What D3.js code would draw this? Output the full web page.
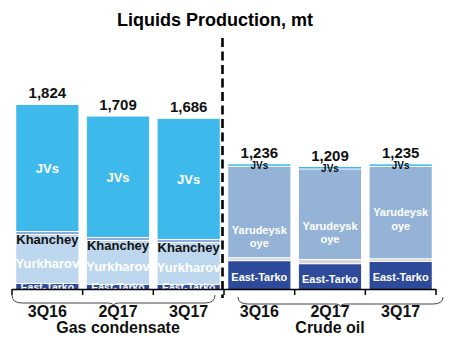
<!DOCTYPE html>
<html>
<head>
<meta charset="utf-8">
<script src="https://cdn.jsdelivr.net/npm/d3@7/dist/d3.min.js"></script>
<style>
  html, body { margin: 0; padding: 0; background: #fff; }
  svg { display: block; font-family: "Liberation Sans", Arial, sans-serif; }
</style>
</head>
<body>
<svg id="chart" width="456" height="352"></svg>
<script>
// ---------- data ----------
const title = "Liquids Production, mt";
const periods = ["3Q16", "2Q17", "3Q17"];
const groupNames = ["Gas condensate", "Crude oil"];

const gasTotals = [1824, 1709, 1686];
const gasEastTarko = [50, 40, 40];
const gasYurkharov = [485, 436, 416];
const gasKhanchey = [30, 30, 30];
const gasJVs = [1259, 1203, 1200];

const crudeTotals = [1236, 1209, 1235];
const crudeEastTarko = [275, 245, 268];
const crudeOther = [30, 42, 27];
const crudeYarudeyskoye = [906, 897, 915];
const crudeJVs = [25, 25, 25];

const totalLabels = ["1,824", "1,709", "1,686", "1,236", "1,209", "1,235"];
// vertical shift of the two-line "Yarudeyskoye" label relative to its segment centre
const yarLabelShift = [17, 11, -1];

// ---------- layout ----------
const svg = d3.select("#chart");
const baseline = 289;
const y = d3.scaleLinear().domain([0, 2000]).range([baseline, baseline - 201.8]);
const keys = [];
groupNames.forEach((g, gi) => periods.forEach((p, pi) => keys.push(gi + "-" + pi)));
const x = d3.scaleBand().domain(keys).range([12, 436]).paddingInner(0.12).paddingOuter(0.06);
const step = x.step();
const bw = x.bandwidth();

const colors = {
  eastTarko: "#2E4B9B",
  yurkharov: "#BDD7EE",
  khanchey: "#8FAADC",
  jvs: "#3EB9EB",
  other: "#D9D9D9",
  yarudey: "#95B3D7"
};

// build stacks
const bars = [];
periods.forEach((p, i) => {
  bars.push({key: "0-" + i, total: gasTotals[i], label: totalLabels[i], segs: [
    {name: "East-Tarko", v: gasEastTarko[i], c: colors.eastTarko},
    {name: "Yurkharov", v: gasYurkharov[i], c: colors.yurkharov},
    {name: "Khanchey", v: gasKhanchey[i], c: colors.khanchey},
    {name: "JVs", v: gasJVs[i], c: colors.jvs}
  ]});
});
periods.forEach((p, i) => {
  bars.push({key: "1-" + i, idx: i, total: crudeTotals[i], label: totalLabels[3 + i], segs: [
    {name: "East-Tarko", v: crudeEastTarko[i], c: colors.eastTarko},
    {name: "Other", v: crudeOther[i], c: colors.other},
    {name: "Yarudeyskoye", v: crudeYarudeyskoye[i], c: colors.yarudey},
    {name: "JVs", v: crudeJVs[i], c: colors.jvs}
  ]});
});
bars.forEach(b => {
  let acc = 0;
  b.segs.forEach(s => { s.y0 = acc; acc += s.v; s.y1 = acc; });
});

// ---------- title ----------
svg.append("text").attr("x", 215).attr("y", 26).attr("text-anchor", "middle")
  .attr("font-size", 18).attr("font-weight", "bold").attr("fill", "#000").text(title);

// ---------- dashed divider ----------
const divX = x("1-0") - step * 0.06 - 1.5;
svg.append("line").attr("x1", divX).attr("x2", divX).attr("y1", 38).attr("y2", 298)
  .attr("stroke", "#000").attr("stroke-width", 2.6).attr("stroke-dasharray", "9,4.5");

// ---------- bars ----------
const gBars = svg.append("g");
bars.forEach(b => {
  const g = gBars.append("g");
  const x0 = x(b.key);
  b.segs.forEach((s, si) => {
    const top = y(s.y1) + (si === b.segs.length - 1 ? 0 : 0);
    const bottom = y(s.y0) - (si === 0 ? 0 : 1);
    g.append("rect").attr("x", x0).attr("width", bw)
      .attr("y", top).attr("height", Math.max(0.8, bottom - top))
      .attr("fill", s.c);
  });
});

// ---------- segment labels ----------
const lab = svg.append("g").attr("text-anchor", "middle").attr("font-weight", "bold");
bars.forEach(b => {
  const cx = x(b.key) + bw / 2;
  const seg = n => b.segs.find(s => s.name === n);
  if (b.key[0] === "0") {
    const jv = seg("JVs"), kh = seg("Khanchey"), yu = seg("Yurkharov"), et = seg("East-Tarko");
    lab.append("text").attr("x", cx).attr("y", (y(jv.y0) + y(jv.y1)) / 2 + 4.6)
      .attr("font-size", 13).attr("fill", "#fff").text("JVs");
    lab.append("text").attr("x", cx).attr("y", y(kh.y0) + 9)
      .attr("font-size", 13).attr("fill", "#111").text("Khanchey");
    lab.append("text").attr("x", cx).attr("y", (y(yu.y0) + y(yu.y1)) / 2 + 8.5)
      .attr("font-size", 13).attr("fill", "#fff").text("Yurkharov");
    lab.append("text").attr("x", cx).attr("y", (y(et.y0) + y(et.y1)) / 2 + 4.5)
      .attr("font-size", 10.5).attr("fill", "#fff").text("East-Tarko");
  } else {
    const jv = seg("JVs"), ya = seg("Yarudeyskoye"), et = seg("East-Tarko");
    lab.append("text").attr("x", cx).attr("y", y(jv.y1) + 4.5)
      .attr("font-size", 10).attr("fill", "#111").text("JVs");
    const yc = (y(ya.y0) + y(ya.y1)) / 2 + yarLabelShift[b.idx];
    lab.append("text").attr("x", cx).attr("y", yc + 4)
      .attr("font-size", 11).attr("fill", "#fff").text("Yarudeysk");
    lab.append("text").attr("x", cx).attr("y", yc + 17.5)
      .attr("font-size", 11).attr("fill", "#fff").text("oye");
    lab.append("text").attr("x", cx).attr("y", (y(et.y0) + y(et.y1)) / 2 + 6)
      .attr("font-size", 11).attr("fill", "#fff").text("East-Tarko");
  }
  // total label
  lab.append("text").attr("x", cx).attr("y", y(b.total) - 6.5)
    .attr("font-size", 15).attr("fill", "#111").text(b.label);
});

// ---------- axis ----------
const ax = svg.append("g");
const x0a = x.range()[0], x1a = x.range()[1];
ax.append("line").attr("x1", x0a).attr("x2", x1a).attr("y1", baseline + 0.5).attr("y2", baseline + 0.5)
  .attr("stroke", "#000").attr("stroke-width", 1.5);
const tickXs = keys.map(k => x(k) - step * 0.06).concat([x1a]);
tickXs.forEach(t => {
  ax.append("line").attr("x1", t).attr("x2", t).attr("y1", baseline).attr("y2", baseline + 6)
    .attr("stroke", "#000").attr("stroke-width", 1.5);
});

// ---------- braces ----------
function brace(xa, xb, yt, d) {
  const xm = (xa + xb) / 2, yb = yt + d;
  return `M${xa},${yt} Q${xa},${yb} ${xa + 10},${yb} L${xm - 6},${yb} Q${xm},${yb} ${xm},${yb + 3} ` +
         `Q${xm},${yb} ${xm + 6},${yb} L${xb - 10},${yb} Q${xb},${yb} ${xb},${yt}`;
}
svg.append("path").attr("d", brace(12, 215, 295, 8)).attr("fill", "none")
  .attr("stroke", "#444").attr("stroke-width", 1);
svg.append("path").attr("d", brace(238, 443, 297, 7)).attr("fill", "none")
  .attr("stroke", "#444").attr("stroke-width", 1);

// ---------- category labels ----------
const cl = svg.append("g").attr("text-anchor", "middle").attr("font-weight", "bold").attr("fill", "#111");
keys.forEach((k, i) => {
  cl.append("text").attr("x", x(k) + bw / 2).attr("y", 317).attr("font-size", 16)
    .text(periods[i % 3]);
});
groupNames.forEach((g, gi) => {
  const a = x(gi + "-0"), b = x(gi + "-2") + bw;
  cl.append("text").attr("x", (a + b) / 2).attr("y", 333).attr("font-size", 16).text(g);
});
</script>
</body>
</html>
